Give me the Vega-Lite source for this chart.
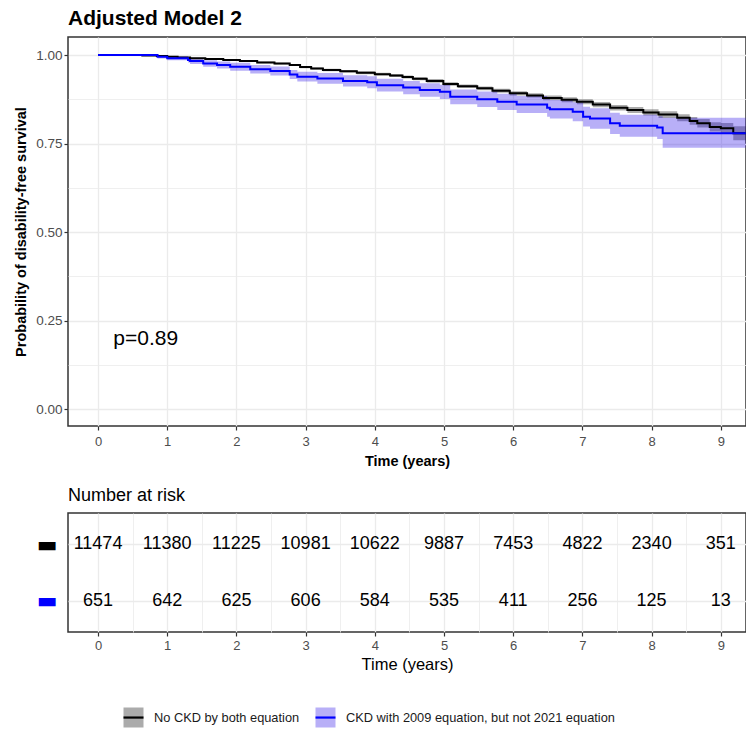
{
  "$schema": "https://vega.github.io/schema/vega-lite/v6.json",
  "background": "white",
  "padding": {"left": 12, "top": 7, "right": 0, "bottom": 0},
  "config": {
    "font": "Liberation Sans",
    "view": {"stroke": "#333333", "strokeWidth": 1.5},
    "axis": {"labelFont": "Liberation Sans", "titleFont": "Liberation Sans", "labelColor": "#4d4d4d", "tickColor": "#333333", "gridColor": "#ebebeb", "domain": false, "titleColor": "#000000"},
    "concat": {"spacing": 17}
  },
  "datasets": {
    "km": [
      {"group": "No CKD by both equation", "t": 0, "s": 1.0, "lo": 1.0, "hi": 1.0},
      {"group": "No CKD by both equation", "t": 0.64, "s": 0.999, "lo": 0.9985, "hi": 0.9995},
      {"group": "No CKD by both equation", "t": 0.85, "s": 0.997, "lo": 0.996, "hi": 0.998},
      {"group": "No CKD by both equation", "t": 1.0, "s": 0.995, "lo": 0.994, "hi": 0.996},
      {"group": "No CKD by both equation", "t": 1.15, "s": 0.993, "lo": 0.9915, "hi": 0.9945},
      {"group": "No CKD by both equation", "t": 1.33, "s": 0.991, "lo": 0.9895, "hi": 0.9925},
      {"group": "No CKD by both equation", "t": 1.55, "s": 0.989, "lo": 0.987, "hi": 0.991},
      {"group": "No CKD by both equation", "t": 1.81, "s": 0.986, "lo": 0.984, "hi": 0.988},
      {"group": "No CKD by both equation", "t": 2.05, "s": 0.983, "lo": 0.981, "hi": 0.985},
      {"group": "No CKD by both equation", "t": 2.3, "s": 0.979, "lo": 0.9765, "hi": 0.9815},
      {"group": "No CKD by both equation", "t": 2.55, "s": 0.976, "lo": 0.9735, "hi": 0.9785},
      {"group": "No CKD by both equation", "t": 2.77, "s": 0.972, "lo": 0.969, "hi": 0.975},
      {"group": "No CKD by both equation", "t": 2.92, "s": 0.966, "lo": 0.963, "hi": 0.969},
      {"group": "No CKD by both equation", "t": 3.08, "s": 0.962, "lo": 0.959, "hi": 0.965},
      {"group": "No CKD by both equation", "t": 3.25, "s": 0.958, "lo": 0.9545, "hi": 0.9615},
      {"group": "No CKD by both equation", "t": 3.5, "s": 0.954, "lo": 0.9505, "hi": 0.9575},
      {"group": "No CKD by both equation", "t": 3.74, "s": 0.95, "lo": 0.946, "hi": 0.954},
      {"group": "No CKD by both equation", "t": 4.0, "s": 0.946, "lo": 0.942, "hi": 0.95},
      {"group": "No CKD by both equation", "t": 4.22, "s": 0.942, "lo": 0.938, "hi": 0.946},
      {"group": "No CKD by both equation", "t": 4.4, "s": 0.938, "lo": 0.9335, "hi": 0.9425},
      {"group": "No CKD by both equation", "t": 4.55, "s": 0.933, "lo": 0.9285, "hi": 0.9375},
      {"group": "No CKD by both equation", "t": 4.75, "s": 0.927, "lo": 0.922, "hi": 0.932},
      {"group": "No CKD by both equation", "t": 4.99, "s": 0.918, "lo": 0.913, "hi": 0.923},
      {"group": "No CKD by both equation", "t": 5.2, "s": 0.912, "lo": 0.907, "hi": 0.917},
      {"group": "No CKD by both equation", "t": 5.48, "s": 0.906, "lo": 0.9005, "hi": 0.9115},
      {"group": "No CKD by both equation", "t": 5.7, "s": 0.899, "lo": 0.8935, "hi": 0.9045},
      {"group": "No CKD by both equation", "t": 5.95, "s": 0.892, "lo": 0.886, "hi": 0.898},
      {"group": "No CKD by both equation", "t": 6.2, "s": 0.886, "lo": 0.88, "hi": 0.892},
      {"group": "No CKD by both equation", "t": 6.43, "s": 0.879, "lo": 0.8725, "hi": 0.8855},
      {"group": "No CKD by both equation", "t": 6.7, "s": 0.874, "lo": 0.867, "hi": 0.881},
      {"group": "No CKD by both equation", "t": 6.92, "s": 0.868, "lo": 0.861, "hi": 0.875},
      {"group": "No CKD by both equation", "t": 7.15, "s": 0.86, "lo": 0.8525, "hi": 0.8675},
      {"group": "No CKD by both equation", "t": 7.4, "s": 0.851, "lo": 0.843, "hi": 0.859},
      {"group": "No CKD by both equation", "t": 7.65, "s": 0.845, "lo": 0.8365, "hi": 0.8535},
      {"group": "No CKD by both equation", "t": 7.88, "s": 0.838, "lo": 0.829, "hi": 0.847},
      {"group": "No CKD by both equation", "t": 8.1, "s": 0.832, "lo": 0.8225, "hi": 0.8415},
      {"group": "No CKD by both equation", "t": 8.37, "s": 0.823, "lo": 0.813, "hi": 0.833},
      {"group": "No CKD by both equation", "t": 8.55, "s": 0.814, "lo": 0.803, "hi": 0.825},
      {"group": "No CKD by both equation", "t": 8.66, "s": 0.807, "lo": 0.795, "hi": 0.819},
      {"group": "No CKD by both equation", "t": 8.84, "s": 0.797, "lo": 0.784, "hi": 0.81},
      {"group": "No CKD by both equation", "t": 9.0, "s": 0.793, "lo": 0.778, "hi": 0.808},
      {"group": "No CKD by both equation", "t": 9.18, "s": 0.779, "lo": 0.759, "hi": 0.799},
      {"group": "No CKD by both equation", "t": 9.36, "s": 0.779, "lo": 0.759, "hi": 0.799},
      {"group": "CKD with 2009 equation, but not 2021 equation", "t": 0, "s": 1.0, "lo": 1.0, "hi": 1.0},
      {"group": "CKD with 2009 equation, but not 2021 equation", "t": 0.64, "s": 1.0, "lo": 1.0, "hi": 1.0},
      {"group": "CKD with 2009 equation, but not 2021 equation", "t": 0.86, "s": 0.995, "lo": 0.99, "hi": 1.0},
      {"group": "CKD with 2009 equation, but not 2021 equation", "t": 1.0, "s": 0.991, "lo": 0.985, "hi": 0.997},
      {"group": "CKD with 2009 equation, but not 2021 equation", "t": 1.3, "s": 0.986, "lo": 0.979, "hi": 0.993},
      {"group": "CKD with 2009 equation, but not 2021 equation", "t": 1.33, "s": 0.983, "lo": 0.975, "hi": 0.991},
      {"group": "CKD with 2009 equation, but not 2021 equation", "t": 1.52, "s": 0.976, "lo": 0.967, "hi": 0.985},
      {"group": "CKD with 2009 equation, but not 2021 equation", "t": 1.72, "s": 0.972, "lo": 0.962, "hi": 0.982},
      {"group": "CKD with 2009 equation, but not 2021 equation", "t": 1.91, "s": 0.967, "lo": 0.956, "hi": 0.978},
      {"group": "CKD with 2009 equation, but not 2021 equation", "t": 2.2, "s": 0.96, "lo": 0.948, "hi": 0.972},
      {"group": "CKD with 2009 equation, but not 2021 equation", "t": 2.49, "s": 0.955, "lo": 0.942, "hi": 0.968},
      {"group": "CKD with 2009 equation, but not 2021 equation", "t": 2.77, "s": 0.945, "lo": 0.932, "hi": 0.958},
      {"group": "CKD with 2009 equation, but not 2021 equation", "t": 2.88, "s": 0.939, "lo": 0.925, "hi": 0.953},
      {"group": "CKD with 2009 equation, but not 2021 equation", "t": 3.17, "s": 0.934, "lo": 0.919, "hi": 0.949},
      {"group": "CKD with 2009 equation, but not 2021 equation", "t": 3.54, "s": 0.927, "lo": 0.911, "hi": 0.943},
      {"group": "CKD with 2009 equation, but not 2021 equation", "t": 3.89, "s": 0.923, "lo": 0.906, "hi": 0.94},
      {"group": "CKD with 2009 equation, but not 2021 equation", "t": 4.03, "s": 0.915, "lo": 0.897, "hi": 0.933},
      {"group": "CKD with 2009 equation, but not 2021 equation", "t": 4.41, "s": 0.908, "lo": 0.889, "hi": 0.927},
      {"group": "CKD with 2009 equation, but not 2021 equation", "t": 4.65, "s": 0.901, "lo": 0.882, "hi": 0.92},
      {"group": "CKD with 2009 equation, but not 2021 equation", "t": 4.94, "s": 0.896, "lo": 0.876, "hi": 0.916},
      {"group": "CKD with 2009 equation, but not 2021 equation", "t": 5.09, "s": 0.882, "lo": 0.861, "hi": 0.903},
      {"group": "CKD with 2009 equation, but not 2021 equation", "t": 5.48, "s": 0.875, "lo": 0.853, "hi": 0.897},
      {"group": "CKD with 2009 equation, but not 2021 equation", "t": 5.77, "s": 0.868, "lo": 0.845, "hi": 0.891},
      {"group": "CKD with 2009 equation, but not 2021 equation", "t": 6.05, "s": 0.86, "lo": 0.836, "hi": 0.884},
      {"group": "CKD with 2009 equation, but not 2021 equation", "t": 6.49, "s": 0.851, "lo": 0.826, "hi": 0.876},
      {"group": "CKD with 2009 equation, but not 2021 equation", "t": 6.53, "s": 0.847, "lo": 0.821, "hi": 0.873},
      {"group": "CKD with 2009 equation, but not 2021 equation", "t": 6.86, "s": 0.84, "lo": 0.813, "hi": 0.867},
      {"group": "CKD with 2009 equation, but not 2021 equation", "t": 7.01, "s": 0.826, "lo": 0.798, "hi": 0.854},
      {"group": "CKD with 2009 equation, but not 2021 equation", "t": 7.11, "s": 0.821, "lo": 0.792, "hi": 0.85},
      {"group": "CKD with 2009 equation, but not 2021 equation", "t": 7.4, "s": 0.807, "lo": 0.777, "hi": 0.837},
      {"group": "CKD with 2009 equation, but not 2021 equation", "t": 7.54, "s": 0.8, "lo": 0.769, "hi": 0.831},
      {"group": "CKD with 2009 equation, but not 2021 equation", "t": 8.08, "s": 0.795, "lo": 0.763, "hi": 0.827},
      {"group": "CKD with 2009 equation, but not 2021 equation", "t": 8.16, "s": 0.779, "lo": 0.738, "hi": 0.823},
      {"group": "CKD with 2009 equation, but not 2021 equation", "t": 9.36, "s": 0.779, "lo": 0.738, "hi": 0.823}
    ],
    "risk": [
      {"group": "No CKD by both equation", "t": 0, "n": 11474},
      {"group": "No CKD by both equation", "t": 1, "n": 11380},
      {"group": "No CKD by both equation", "t": 2, "n": 11225},
      {"group": "No CKD by both equation", "t": 3, "n": 10981},
      {"group": "No CKD by both equation", "t": 4, "n": 10622},
      {"group": "No CKD by both equation", "t": 5, "n": 9887},
      {"group": "No CKD by both equation", "t": 6, "n": 7453},
      {"group": "No CKD by both equation", "t": 7, "n": 4822},
      {"group": "No CKD by both equation", "t": 8, "n": 2340},
      {"group": "No CKD by both equation", "t": 9, "n": 351},
      {"group": "CKD with 2009 equation, but not 2021 equation", "t": 0, "n": 651},
      {"group": "CKD with 2009 equation, but not 2021 equation", "t": 1, "n": 642},
      {"group": "CKD with 2009 equation, but not 2021 equation", "t": 2, "n": 625},
      {"group": "CKD with 2009 equation, but not 2021 equation", "t": 3, "n": 606},
      {"group": "CKD with 2009 equation, but not 2021 equation", "t": 4, "n": 584},
      {"group": "CKD with 2009 equation, but not 2021 equation", "t": 5, "n": 535},
      {"group": "CKD with 2009 equation, but not 2021 equation", "t": 6, "n": 411},
      {"group": "CKD with 2009 equation, but not 2021 equation", "t": 7, "n": 256},
      {"group": "CKD with 2009 equation, but not 2021 equation", "t": 8, "n": 125},
      {"group": "CKD with 2009 equation, but not 2021 equation", "t": 9, "n": 13}
    ],
    "note": [{"label": "p=0.89"}]
  },
  "vconcat": [
    {
      "width": 678,
      "height": 389,
      "title": {"text": "Adjusted Model 2", "anchor": "start", "frame": "group", "fontSize": 21, "fontWeight": "bold", "font": "Liberation Sans", "color": "#000000", "offset": 8},
      "layer": [
        {
          "data": {"name": "km"},
          "transform": [{"filter": "datum.group === 'No CKD by both equation'"}],
          "mark": {"type": "area", "interpolate": "step-after", "fillOpacity": 0.33},
          "encoding": {
            "x": {
              "field": "t", "type": "quantitative", "title": "Time (years)",
              "scale": {"domain": [-0.434, 9.364], "nice": false, "zero": false},
              "axis": {
                "titleFontSize": 14.5, "titleFontWeight": "bold", "titlePadding": 6,
                "values": [0, 0.5, 1, 1.5, 2, 2.5, 3, 3.5, 4, 4.5, 5, 5.5, 6, 6.5, 7, 7.5, 8, 8.5, 9],
                "labelExpr": "datum.value % 1 === 0 ? format(datum.value, 'd') : ''",
                "labelFontSize": 13, "labelPadding": 5, "tickSize": 4, "tickWidth": 1.2,
                "tickOpacity": {"condition": {"test": "datum.value % 1 !== 0", "value": 0}, "value": 1},
                "gridWidth": {"condition": {"test": "datum.value % 1 !== 0", "value": 0.8}, "value": 1.3}
              }
            },
            "y": {
              "field": "lo", "type": "quantitative", "stack": null,
              "title": "Probability of disability-free survival",
              "scale": {"domain": [-0.048, 1.051], "nice": false, "zero": false},
              "axis": {
                "titleFontSize": 14.5, "titleFontWeight": "bold", "titlePadding": 7,
                "values": [0, 0.125, 0.25, 0.375, 0.5, 0.625, 0.75, 0.875, 1],
                "labelExpr": "(datum.value * 4) % 1 === 0 ? format(datum.value, '.2f') : ''",
                "labelFontSize": 13.5, "labelPadding": 2, "tickSize": 4, "tickWidth": 1.2,
                "tickOpacity": {"condition": {"test": "(datum.value * 4) % 1 !== 0", "value": 0}, "value": 1},
                "gridWidth": {"condition": {"test": "(datum.value * 4) % 1 !== 0", "value": 0.8}, "value": 1.3}
              }
            },
            "y2": {"field": "hi"},
            "fill": {
              "field": "group", "type": "nominal",
              "scale": {"domain": ["No CKD by both equation", "CKD with 2009 equation, but not 2021 equation"], "range": ["#000000", "#280de7"]},
              "legend": {
                "title": null, "orient": "none", "legendX": 54, "legendY": 669, "direction": "horizontal",
                "symbolType": "M-1,0L1,0L1,1L-1,1L-1,-1L1,-1L1,0Z", "symbolSize": 400,
                "symbolDash": [20, 500], "symbolStrokeWidth": 2.2,
                "labelFontSize": 12.8, "labelFont": "Liberation Sans", "labelColor": "#1a1a1a", "labelLimit": 400,
                "labelOffset": 9, "columnPadding": 11,
                "encode": {"symbols": {"update": {"fillOpacity": {"value": 0.33}, "strokeOpacity": {"value": 1}}}}
              }
            }
          }
        },
        {
          "data": {"name": "km"},
          "transform": [{"filter": "datum.group !== 'No CKD by both equation'"}],
          "mark": {"type": "area", "interpolate": "step-after", "fillOpacity": 0.33},
          "encoding": {
            "x": {"field": "t", "type": "quantitative", "title": "Time (years)", "scale": {"domain": [-0.434, 9.364], "nice": false, "zero": false}},
            "y": {"field": "lo", "type": "quantitative", "stack": null, "title": "Probability of disability-free survival", "scale": {"domain": [-0.048, 1.051], "nice": false, "zero": false}},
            "y2": {"field": "hi"},
            "fill": {"field": "group", "type": "nominal"}
          }
        },
        {
          "data": {"name": "km"},
          "transform": [{"filter": "datum.group === 'No CKD by both equation'"}],
          "mark": {"type": "line", "interpolate": "step-after", "strokeWidth": 2},
          "encoding": {
            "x": {"field": "t", "type": "quantitative", "title": "Time (years)", "scale": {"domain": [-0.434, 9.364], "nice": false, "zero": false}},
            "y": {"field": "s", "type": "quantitative", "title": "Probability of disability-free survival", "scale": {"domain": [-0.048, 1.051], "nice": false, "zero": false}},
            "stroke": {
              "field": "group", "type": "nominal",
              "scale": {"domain": ["No CKD by both equation", "CKD with 2009 equation, but not 2021 equation"], "range": ["#000000", "#0000ff"]},
              "legend": {
                "title": null, "orient": "none", "legendX": 54, "legendY": 669, "direction": "horizontal",
                "symbolType": "M-1,0L1,0L1,1L-1,1L-1,-1L1,-1L1,0Z", "symbolSize": 400,
                "symbolDash": [20, 500], "symbolStrokeWidth": 2.2,
                "labelFontSize": 12.8, "labelFont": "Liberation Sans", "labelColor": "#1a1a1a", "labelLimit": 400,
                "labelOffset": 9, "columnPadding": 11,
                "encode": {"symbols": {"update": {"fillOpacity": {"value": 0.33}, "strokeOpacity": {"value": 1}}}}
              }
            }
          }
        },
        {
          "data": {"name": "km"},
          "transform": [{"filter": "datum.group !== 'No CKD by both equation'"}],
          "mark": {"type": "line", "interpolate": "step-after", "strokeWidth": 2},
          "encoding": {
            "x": {"field": "t", "type": "quantitative", "title": "Time (years)", "scale": {"domain": [-0.434, 9.364], "nice": false, "zero": false}},
            "y": {"field": "s", "type": "quantitative", "title": "Probability of disability-free survival", "scale": {"domain": [-0.048, 1.051], "nice": false, "zero": false}},
            "stroke": {"field": "group", "type": "nominal"}
          }
        },
        {
          "data": {"name": "note"},
          "mark": {"type": "text", "align": "left", "baseline": "middle", "fontSize": 21, "font": "Liberation Sans", "color": "#000000"},
          "encoding": {
            "x": {"datum": 0.22, "type": "quantitative", "title": "Time (years)"},
            "y": {"datum": 0.198, "type": "quantitative", "title": "Probability of disability-free survival"},
            "text": {"field": "label", "type": "nominal"}
          }
        }
      ]
    },
    {
      "width": 678,
      "height": 119,
      "title": {"text": "Number at risk", "anchor": "start", "frame": "group", "fontSize": 18, "fontWeight": "normal", "font": "Liberation Sans", "color": "#000000", "offset": 8},
      "data": {"name": "risk"},
      "mark": {"type": "text", "fontSize": 18, "font": "Liberation Sans", "color": "#000000"},
      "encoding": {
        "x": {
          "field": "t", "type": "quantitative",
          "scale": {"domain": [-0.434, 9.364], "nice": false, "zero": false},
          "axis": {
            "title": "Time (years)", "titleFontSize": 16.5, "titleFontWeight": "normal", "titlePadding": 4,
            "values": [0, 0.5, 1, 1.5, 2, 2.5, 3, 3.5, 4, 4.5, 5, 5.5, 6, 6.5, 7, 7.5, 8, 8.5, 9],
            "labelExpr": "datum.value % 1 === 0 ? format(datum.value, 'd') : ''",
            "labelFontSize": 13, "labelPadding": 3, "tickSize": 4, "tickWidth": 1.2,
            "tickOpacity": {"condition": {"test": "datum.value % 1 !== 0", "value": 0}, "value": 1},
            "gridWidth": {"condition": {"test": "datum.value % 1 !== 0", "value": 0.8}, "value": 1.3}
          }
        },
        "y": {
          "field": "group", "type": "nominal",
          "sort": ["No CKD by both equation", "CKD with 2009 equation, but not 2021 equation"],
          "scale": {"type": "point", "padding": 0.55},
          "axis": {
            "title": null, "labelExpr": "'▬'", "labelFontSize": 22, "labelFont": "DejaVu Sans",
            "labelColor": {"condition": {"test": "datum.value === 'No CKD by both equation'", "value": "#000000"}, "value": "#0000ff"},
            "ticks": false, "labelPadding": 11, "grid": true, "gridWidth": 1.3
          }
        },
        "text": {"field": "n", "type": "quantitative", "format": "d"}
      }
    }
  ]
}
